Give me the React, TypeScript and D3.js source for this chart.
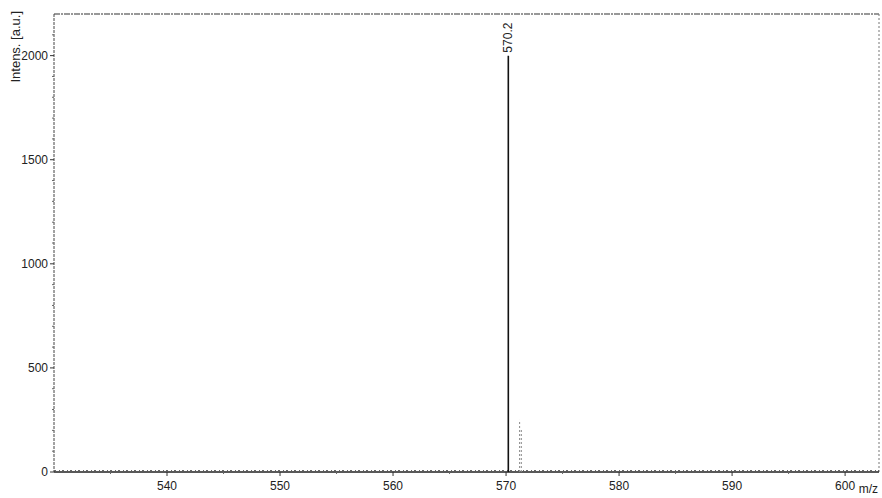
import React from "react";
import * as d3 from "d3";

// chart size
const W = 882,
  H = 498;
const margin = { left: 54, right: 3, top: 14, bottom: 26 };

// axis ranges / ticks
const MZ_DOMAIN = [530, 603];
const INT_DOMAIN = [0, 2200];
const mzTicks = [540, 550, 560, 570, 580, 590, 600];
const intTicks = [0, 500, 1000, 1500, 2000];

// peaks
const peakMz = [570.2, 571.2, 571.35];
const peakInt = [2000, 250, 210];
const peakLabels = ["570.2", "", ""];

export default function App() {
  const x = d3
    .scaleLinear()
    .domain(MZ_DOMAIN)
    .range([margin.left, W - margin.right]);
  const y = d3
    .scaleLinear()
    .domain(INT_DOMAIN)
    .range([H - margin.bottom, margin.top]);

  const xMinor = d3.range(535, 603, 5).filter(v => !mzTicks.includes(v));
  const yMinor = d3.range(100, 2200, 100).filter(v => !intTicks.includes(v));
  const font = "'Liberation Sans', Arial, sans-serif";
  const y0 = y(0);

  return (
    <svg
      width={W}
      height={H}
      style={{ position: "absolute", left: 0, top: 0, background: "#fff" }}
      fontFamily={font}
    >
      {/* frame: top and right borders */}
      <line
        x1={x(MZ_DOMAIN[0])}
        x2={x(MZ_DOMAIN[1])}
        y1={y(INT_DOMAIN[1])}
        y2={y(INT_DOMAIN[1])}
        stroke="#333"
        strokeWidth={1.2}
        strokeDasharray="6 1 2 1"
      />
      <line
        x1={x(MZ_DOMAIN[1])}
        x2={x(MZ_DOMAIN[1])}
        y1={y(INT_DOMAIN[1])}
        y2={y0}
        stroke="#777"
        strokeWidth={1}
        strokeDasharray="2 2"
      />

      {/* y axis */}
      <line
        x1={margin.left}
        x2={margin.left}
        y1={y(INT_DOMAIN[1])}
        y2={y0}
        stroke="#444"
        strokeWidth={1}
        strokeDasharray="3 1"
      />
      {intTicks.map(t => (
        <g key={"yt" + t}>
          <line x1={margin.left - 4} x2={margin.left} y1={y(t)} y2={y(t)} stroke="#333" />
          <text
            x={margin.left - 6}
            y={y(t)}
            dy="0.35em"
            textAnchor="end"
            fontSize={12}
            fill="#222"
          >
            {t}
          </text>
        </g>
      ))}
      {yMinor.map(t => (
        <line key={"ym" + t} x1={margin.left - 2} x2={margin.left} y1={y(t)} y2={y(t)} stroke="#666" />
      ))}
      <text
        transform={`translate(20, ${margin.top - 3}) rotate(-90)`}
        textAnchor="end"
        fontSize={13}
        fill="#222"
      >
        Intens. [a.u.]
      </text>

      {/* baseline noise and x axis */}
      <line
        x1={margin.left}
        x2={x(MZ_DOMAIN[1])}
        y1={y0 - 1.5}
        y2={y0 - 1.5}
        stroke="#666"
        strokeWidth={1}
        strokeDasharray="2 3 1 2"
      />
      <line x1={margin.left} x2={x(MZ_DOMAIN[1])} y1={y0} y2={y0} stroke="#222" strokeWidth={1.4} />
      {mzTicks.map(t => (
        <g key={"xt" + t}>
          <line x1={x(t)} x2={x(t)} y1={y0} y2={y0 + 4} stroke="#333" />
          <text x={x(t)} y={y0 + 18} textAnchor="middle" fontSize={12} fill="#222">
            {t}
          </text>
        </g>
      ))}
      {xMinor.map(t => (
        <line key={"xm" + t} x1={x(t)} x2={x(t)} y1={y0} y2={y0 + 2} stroke="#666" />
      ))}
      <text x={W - 4} y={H - 5} textAnchor="end" fontSize={12} fill="#222">
        m/z
      </text>

      {/* peaks */}
      {peakMz.map((m, i) => (
        <g key={"p" + i}>
          <line
            x1={x(m)}
            x2={x(m)}
            y1={y0}
            y2={y(peakInt[i])}
            stroke={i === 0 ? "#111" : "#888"}
            strokeWidth={i === 0 ? 1.6 : 1}
            strokeDasharray={i === 0 ? undefined : "2 2"}
          />
          {peakLabels[i] && (
            <text
              transform={`translate(${x(m) + 4}, ${y(peakInt[i]) - 3}) rotate(-90)`}
              textAnchor="start"
              fontSize={12}
              fill="#222"
            >
              {peakLabels[i]}
            </text>
          )}
        </g>
      ))}
    </svg>
  );
}
